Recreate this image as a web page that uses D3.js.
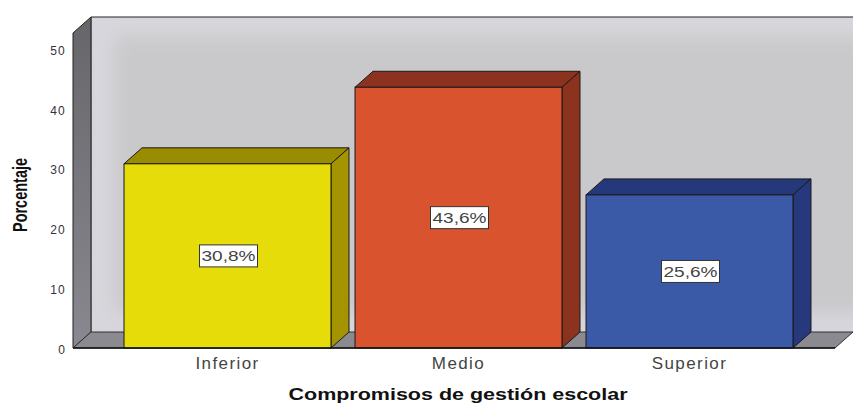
<!DOCTYPE html>
<html>
<head>
  <meta charset="utf-8">
  <script src="https://cdn.jsdelivr.net/npm/d3@7"></script>
  <style>
    html, body { margin: 0; padding: 0; background: #fff; }
    text { font-family: "Liberation Sans", Arial, sans-serif; }
  </style>
</head>
<body>
  <script>

  var width = 853
  var height = 403

  var categories = ["Inferior", "Medio", "Superior"];
  var values = [30.8, 43.6, 25.6];
  var labels = ["30,8%", "43,6%", "25,6%"];
  var yTicks = [0, 10, 20, 30, 40, 50];

  var frontColors = ["#e6dc0a", "#d9532f", "#3a5aa8"];
  var topColors = ["#9a8c00", "#8e3220", "#25397a"];
  var sideColors = ["#a39400", "#8c3320", "#27397c"];

  var depthX = 18, depthY = -16;

  var y = d3.scaleLinear().domain([0, 50]).range([348, 49]);
  var x = d3.scaleBand().domain(categories).range([112, 805]).paddingInner(0.104).paddingOuter(0.052);

  var svg = d3.select("body").append("svg")
    .attr("width", width)
    .attr("height", height)
    .style("display", "block");

  var defs = svg.append("defs");
  defs.append("filter").attr("id", "soft")
    .attr("x", "-10%").attr("y", "-20%").attr("width", "120%").attr("height", "140%")
    .append("feGaussianBlur").attr("stdDeviation", 9);
  var wallGrad = defs.append("linearGradient").attr("id", "leftwall")
    .attr("x1", 0).attr("x2", 0).attr("y1", 0).attr("y2", 1);
  wallGrad.append("stop").attr("offset", "0").attr("stop-color", "#66666a");
  wallGrad.append("stop").attr("offset", "1").attr("stop-color", "#8a8890");

  var plotLeft = 73, plotRight = 835, base = y(0);
  var ceil = 33;

  function pts(a) { return a.map(function(p) { return p.join(","); }).join(" "); }

  // back wall
  svg.append("rect")
    .attr("x", plotLeft + depthX + 1).attr("y", ceil + depthY)
    .attr("width", width - plotLeft - depthX).attr("height", base - ceil)
    .attr("fill", "#d6d6dc");
  svg.append("rect")
    .attr("x", plotLeft + depthX + 24).attr("y", ceil + depthY + 20)
    .attr("width", width - plotLeft - depthX).attr("height", base - ceil - 40)
    .attr("fill", "#c9c9cb")
    .attr("filter", "url(#soft)");
  svg.append("path")
    .attr("d", d3.line()([[plotLeft + depthX, base + depthY], [plotLeft + depthX, ceil + depthY], [width, ceil + depthY]]))
    .attr("fill", "none").attr("stroke", "#222").attr("stroke-width", 1);

  // left wall and floor
  svg.append("polygon")
    .attr("points", pts([[plotLeft, base], [plotLeft, ceil], [plotLeft + depthX, ceil + depthY], [plotLeft + depthX, base + depthY]]))
    .attr("fill", "url(#leftwall)").attr("stroke", "#222").attr("stroke-width", 1);
  svg.append("polygon")
    .attr("points", pts([[plotLeft, base], [plotLeft + depthX, base + depthY], [plotRight + depthX, base + depthY], [plotRight, base]]))
    .attr("fill", "#8b8a90").attr("stroke", "#333").attr("stroke-width", 1);

  // bars
  var bars = svg.selectAll(".bar")
    .data(categories).enter()
    .append("g").attr("class", "bar");

  bars.append("polygon")
    .attr("points", function(d, i) {
      var x0 = x(d), x1 = x0 + x.bandwidth(), yv = y(values[i]);
      return pts([[x0, yv], [x0 + depthX, yv + depthY], [x1 + depthX, yv + depthY], [x1, yv]]);
    })
    .attr("fill", function(d, i) { return topColors[i]; })
    .attr("stroke", "#1a1a1a").attr("stroke-width", 1);

  bars.append("polygon")
    .attr("points", function(d, i) {
      var x1 = x(d) + x.bandwidth(), yv = y(values[i]);
      return pts([[x1, yv], [x1 + depthX, yv + depthY], [x1 + depthX, y(0) + depthY], [x1, y(0)]]);
    })
    .attr("fill", function(d, i) { return sideColors[i]; })
    .attr("stroke", "#1a1a1a").attr("stroke-width", 1);

  bars.append("rect")
    .attr("x", function(d) { return x(d); })
    .attr("y", function(d, i) { return y(values[i]); })
    .attr("width", x.bandwidth())
    .attr("height", function(d, i) { return y(0) - y(values[i]); })
    .attr("fill", function(d, i) { return frontColors[i]; })
    .attr("stroke", "#1a1a1a").attr("stroke-width", 1);

  // value labels
  var lab = svg.selectAll(".lab")
    .data(categories).enter()
    .append("g").attr("class", "lab")
    .attr("transform", function(d, i) {
      return "translate(" + (x(d) + x.bandwidth() / 2 + 1) + "," + y(values[i] / 2) + ")";
    });
  lab.append("rect")
    .attr("x", -29).attr("y", -11).attr("width", 58).attr("height", 22)
    .attr("fill", "#fff").attr("stroke", "#333").attr("stroke-width", 1);
  lab.append("text")
    .attr("text-anchor", "middle").attr("dy", "0.36em")
    .attr("font-size", 15).attr("fill", "#444")
    .attr("textLength", 54).attr("lengthAdjust", "spacingAndGlyphs")
    .text(function(d, i) { return labels[i]; });

  // axes
  var yAxis = svg.append("g")
    .attr("transform", "translate(69,1.5)")
    .call(d3.axisLeft(y).tickValues(yTicks).tickSize(0).tickPadding(3));
  yAxis.select(".domain").remove();
  yAxis.selectAll("text").attr("font-size", 12).attr("fill", "#333")
    .attr("letter-spacing", 1.2)
    .style("font-family", '"Liberation Sans", Arial, sans-serif');

  var xAxis = svg.append("g")
    .attr("transform", "translate(0," + base + ")")
    .call(d3.axisBottom(x).tickSize(0).tickPadding(9));
  xAxis.select(".domain").remove();
  xAxis.selectAll("text").attr("font-size", 17).attr("fill", "#444")
    .attr("letter-spacing", 1.4)
    .style("font-family", '"Liberation Sans", Arial, sans-serif');
  svg.append("line")
    .attr("x1", plotLeft).attr("x2", plotRight).attr("y1", base).attr("y2", base)
    .attr("stroke", "#111").attr("stroke-width", 1.5);

  // axis titles
  svg.append("text")
    .attr("x", 458).attr("y", 400)
    .attr("text-anchor", "middle")
    .attr("font-size", 16).attr("font-weight", "bold").attr("fill", "#111")
    .attr("textLength", 339).attr("lengthAdjust", "spacingAndGlyphs")
    .text("Compromisos de gestión escolar");

  svg.append("text")
    .attr("transform", "translate(27,195) rotate(-90)")
    .attr("text-anchor", "middle")
    .attr("font-size", 20).attr("font-weight", "bold").attr("fill", "#111")
    .attr("textLength", 74).attr("lengthAdjust", "spacingAndGlyphs")
    .text("Porcentaje");

  </script>

</body>
</html>
